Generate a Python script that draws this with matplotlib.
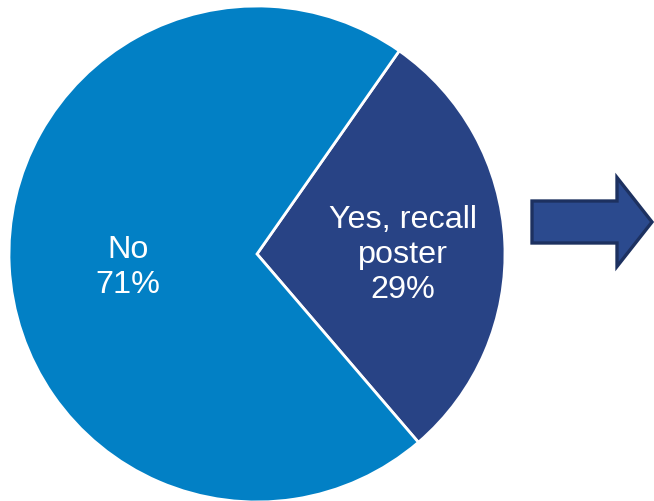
import numpy as np
import matplotlib.pyplot as plt
from matplotlib.patches import FancyArrow

plt.rcParams['font.family'] = ['Liberation Sans', 'DejaVu Sans']

# data
labels = ["Yes, recall\nposter", "No"]
values = [29, 71]
colors = ["#284385", "#0280C5"]

W, H = 654, 501
fig = plt.figure(figsize=(W / 100, H / 100), dpi=100)
ax = fig.add_axes([0, 0, 1, 1])

center = (257, 247)
radius = 248
wedges, _ = ax.pie(values, colors=colors, startangle=-49.4, counterclock=True,
                   center=center, radius=radius,
                   wedgeprops=dict(edgecolor="white", linewidth=2.0))

# labels inside the wedges
label_r = [0.59, 0.52]
label_dy = [-8, -7]
for w, lab, v, rf, dy in zip(wedges, labels, values, label_r, label_dy):
    mid = np.deg2rad((w.theta1 + w.theta2) / 2)
    x = center[0] + rf * radius * np.cos(mid)
    y = center[1] + rf * radius * np.sin(mid) + dy
    ax.text(x, y, "{}\n{}%".format(lab, v), ha="center", va="center",
            color="white", fontsize=23.3, linespacing=1.22)

# arrow on the right
arrow = FancyArrow(532, 279, 120, 0, width=42, head_width=89, head_length=35,
                   length_includes_head=True, facecolor="#2B4A8E",
                   edgecolor="#1D3160", linewidth=2.4)
ax.add_patch(arrow)

ax.set_xlim(0, W)
ax.set_ylim(0, H)
ax.set_aspect("equal")
ax.axis("off")

fig.savefig("out.png", dpi=100)
